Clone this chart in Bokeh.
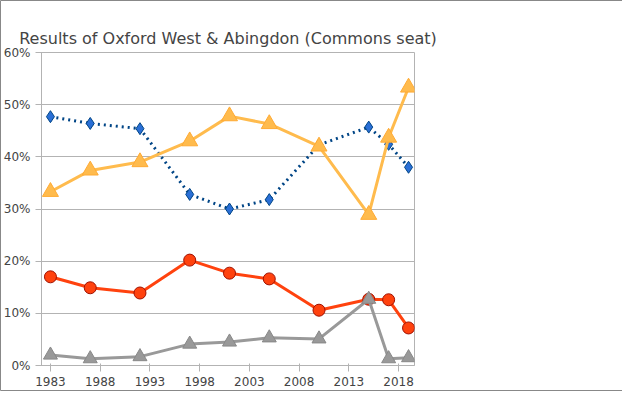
from bokeh.plotting import figure
from bokeh.models import Range1d, Legend, LegendItem, FixedTicker, CustomJSTickFormatter
from bokeh.embed import file_html
from bokeh.resources import INLINE

years = [1983, 1987, 1992, 1997, 2001, 2005, 2010, 2015, 2017, 2019]
conservative = [47.7, 46.4, 45.4, 32.8, 30.0, 31.8, 42.3, 45.7, 42.4, 38.0]
labour = [17.0, 14.9, 13.9, 20.2, 17.7, 16.6, 10.6, 12.7, 12.6, 7.2]
ld = [33.3, 37.4, 39.0, 43.0, 47.8, 46.3, 42.0, 28.9, 43.7, 53.3]
others = [2.0, 1.3, 1.7, 4.1, 4.5, 5.3, 5.1, 12.7, 1.3, 1.5]
xticks = [1983, 1988, 1993, 1998, 2003, 2008, 2013, 2018]
yticks = [0, 10, 20, 30, 40, 50, 60]

p = figure(frame_width=373, frame_height=313, output_backend="svg", toolbar_location=None,
           title="Results of Oxford West & Abingdon (Commons seat)",
           x_range=Range1d(1982.1, 2019.6), y_range=Range1d(0, 60),
           min_border_left=37, min_border_bottom=26, min_border_top=52, min_border_right=5)
p.title.align = "center"
p.title.text_font = "DejaVu Sans"
p.title.text_font_size = "12pt"
p.title.text_font_style = "normal"
p.title.offset = 90
p.outline_line_color = "#b3b3b3"
p.border_line_color = "#888888"
p.xgrid.grid_line_color = None
p.ygrid.grid_line_color = "#b3b3b3"
p.xaxis.ticker = FixedTicker(ticks=xticks)
p.yaxis.ticker = FixedTicker(ticks=yticks)
p.yaxis.formatter = CustomJSTickFormatter(code="return tick + '%';")
for ax in (p.xaxis, p.yaxis):
    ax.major_label_text_font = "DejaVu Sans"
    ax.major_label_text_font_size = "9pt"
    ax.axis_line_color = "#b3b3b3"
    ax.major_tick_line_color = "#b3b3b3"
    ax.minor_tick_line_color = None

l1 = p.line(years, conservative, line_color="#004586", line_width=3, line_dash="dotted")
m1 = p.scatter(years, conservative, marker="diamond", size=12, fill_color="#2a6fd6", line_color="#004586")
l2 = p.line(years, labour, line_color="#ff420e", line_width=3)
m2 = p.scatter(years, labour, marker="circle", size=12, fill_color="#ff420e", line_color="#a01000")
l3 = p.line(years, ld, line_color="#ffbb4d", line_width=3)
m3 = p.scatter(years, ld, marker="triangle", size=16, fill_color="#ffbb4d", line_color="#ffaa33")
l4 = p.line(years, others, line_color="#999999", line_width=3)
m4 = p.scatter(years, others, marker="triangle", size=14, fill_color="#999999", line_color="#888888")

legend = Legend(items=[LegendItem(label="Conservative", renderers=[l1, m1]),
                       LegendItem(label="Labour", renderers=[l2, m2]),
                       LegendItem(label="LD", renderers=[l3, m3]),
                       LegendItem(label="Others", renderers=[l4, m4])],
                location="center", spacing=25, glyph_width=60, label_standoff=4,
                border_line_color=None, label_text_font="DejaVu Sans",
                label_text_font_size="9.5pt", margin=8, padding=12)
p.add_layout(legend, "right")

open("out.html", "w").write(file_html(p, INLINE))
